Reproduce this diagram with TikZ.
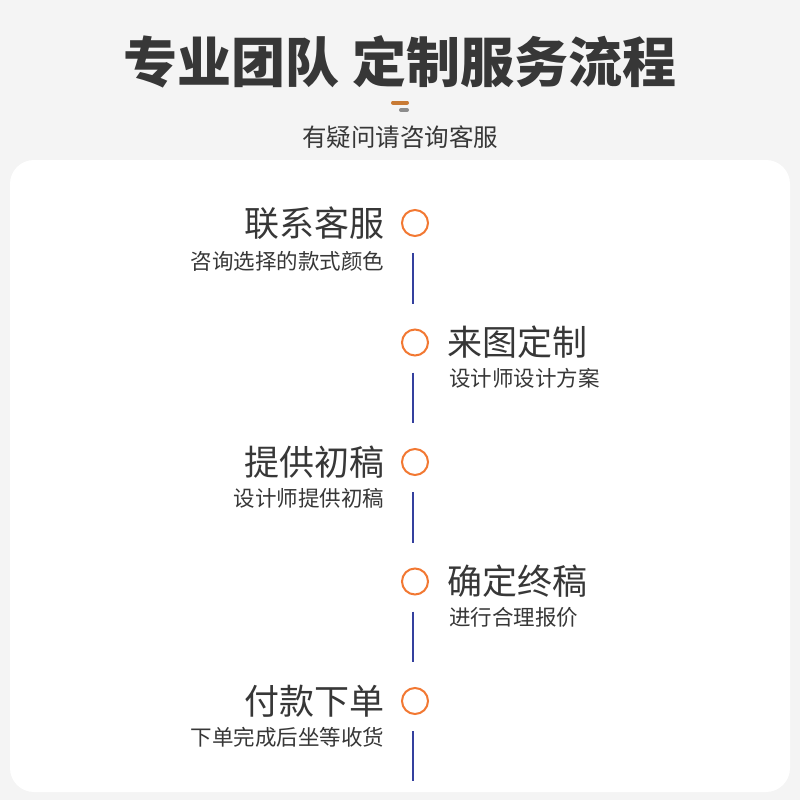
\documentclass[tikz,border=0pt]{standalone}
\usepackage{fontspec}
\newfontfamily\cjk{Noto Sans CJK SC}
\usepackage{tikz}
\usetikzlibrary{positioning}
\definecolor{pagegray}{RGB}{244,244,244}
\definecolor{inkgray}{RGB}{55,55,55}
\definecolor{ringorange}{RGB}{242,120,50}
\definecolor{linkblue}{RGB}{52,64,158}
\definecolor{barorange}{RGB}{200,122,52}
\definecolor{bargray}{RGB}{140,140,140}
\tikzset{
  every node/.style={inner sep=0pt, outer sep=0pt, text=inkgray},
  ring/.style={circle, draw=ringorange, line width=2pt, minimum size=26pt},
  headline/.style={font=\cjk\fontsize{35}{40}\selectfont},
  note/.style={font=\cjk\fontsize{21.5}{25}\selectfont},
  link/.style={draw=linkblue, line width=2pt, shorten <=17pt, shorten >=26pt},
}

\begin{document}
\begin{tikzpicture}[
x=1pt, y=1pt,
node distance=119.5pt
]
\useasboundingbox (0,0) rectangle (800,-800);
\fill[pagegray] (0,0) rectangle (800,-800);
\fill[white, rounded corners=24pt] (10,-160) rectangle (790,-792);

% heading
\node[font=\cjk\bfseries\fontsize{54}{62}\selectfont] (title) at (400,-62) {专业团队 定制服务流程};
\draw[barorange, line width=4pt, line cap=round] (393,-102.5) -- (407,-102.5);
\draw[bargray, line width=4pt, line cap=round] (401,-110) -- (407,-110);
\node[font=\cjk\fontsize{24.5}{28}\selectfont] (ask) at (400,-137) {有疑问请咨询客服};

% steps
\node[ring] (c1) at (415,-223) {};
\node[ring, on grid, below=of c1] (c2) {};
\node[ring, on grid, below=of c2] (c3) {};
\node[ring, on grid, below=of c3] (c4) {};
\node[ring, on grid, below=of c4] (c5) {};
\coordinate[on grid, below=80pt of c5] (tail);

\node[headline, left=18pt of c1] (t1) {联系客服};
\node[note, anchor=east] (n1) at ([yshift=-38pt]t1.east) {咨询选择的款式颜色};
\node[headline, right=19pt of c2] (t2) {来图定制};
\node[note, anchor=west] (n2) at ([xshift=2pt,yshift=-36pt]t2.west) {设计师设计方案};
\node[headline, left=18pt of c3] (t3) {提供初稿};
\node[note, anchor=east] (n3) at ([yshift=-36pt]t3.east) {设计师提供初稿};
\node[headline, right=19pt of c4] (t4) {确定终稿};
\node[note, anchor=west] (n4) at ([xshift=2pt,yshift=-36pt]t4.west) {进行合理报价};
\node[headline, left=18pt of c5] (t5) {付款下单};
\node[note, anchor=east] (n5) at ([yshift=-36pt]t5.east) {下单完成后坐等收货};

\path[link]
([xshift=-2pt]c1.south) edge ([xshift=-2pt]c2.north)
([xshift=-2pt]c2.south) edge ([xshift=-2pt]c3.north)
([xshift=-2pt]c3.south) edge ([xshift=-2pt]c4.north)
([xshift=-2pt]c4.south) edge ([xshift=-2pt]c5.north)
([xshift=-2pt]c5.south) edge[shorten >=0pt] ([xshift=-2pt]tail);
\end{tikzpicture}
\end{document}
